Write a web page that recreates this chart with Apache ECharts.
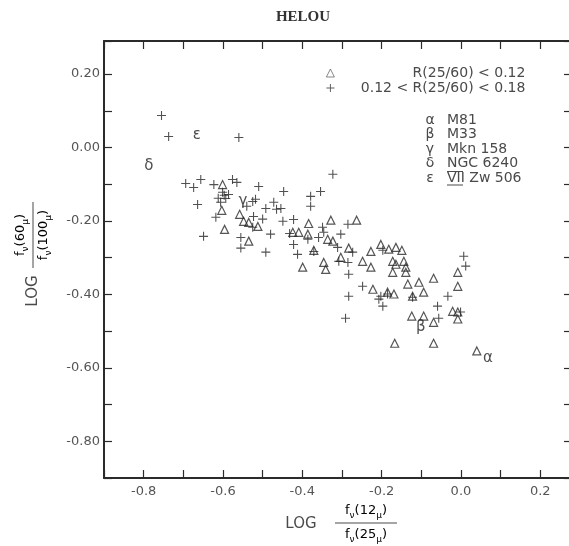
<!DOCTYPE html>
<html>
<head>
<meta charset="utf-8">
<script src="https://cdn.jsdelivr.net/npm/echarts@6/dist/echarts.min.js"></script>
<style>html,body{margin:0;padding:0;background:#fff;}#c{width:569px;height:546px;}</style>
</head>
<body>
<div id="c"></div>
<script>
// ---- data ----
const seriesNames = ['R(25/60) < 0.12', '0.12 < R(25/60) < 0.18'];
const xTickLabels = ['-0.8', '-0.6', '-0.4', '-0.2', '0.0', '0.2'];
const yTickLabels = ['0.20', '0.00', '-0.20', '-0.40', '-0.60', '-0.80'];

// triangles: R(25/60) < 0.12
const trianglePoints = [
  [-0.601,-0.101],[-0.603,-0.171],[-0.596,-0.223],[-0.558,-0.182],[-0.548,-0.201],[-0.535,-0.204],
  [-0.512,-0.215],[-0.535,-0.255],[-0.384,-0.207],[-0.328,-0.198],[-0.263,-0.198],[-0.424,-0.231],
  [-0.409,-0.231],[-0.386,-0.236],[-0.336,-0.250],[-0.323,-0.255],[-0.371,-0.280],[-0.283,-0.274],
  [-0.227,-0.283],[-0.202,-0.264],[-0.182,-0.277],[-0.164,-0.272],[-0.149,-0.280],[-0.399,-0.326],
  [-0.346,-0.313],[-0.341,-0.332],[-0.303,-0.299],[-0.248,-0.310],[-0.227,-0.326],[-0.172,-0.310],
  [-0.164,-0.318],[-0.172,-0.340],[-0.144,-0.310],[-0.139,-0.326],[-0.139,-0.340],[-0.008,-0.340],
  [-0.008,-0.378],[-0.069,-0.356],[-0.134,-0.372],[-0.106,-0.367],[-0.094,-0.394],[-0.222,-0.386],
  [-0.185,-0.394],[-0.169,-0.399],[-0.122,-0.405],[-0.124,-0.459],[-0.094,-0.459],[-0.069,-0.476],
  [-0.021,-0.446],[-0.008,-0.448],[-0.008,-0.467],[-0.167,-0.533],[-0.069,-0.533],[0.040,-0.554]
];

// pluses: 0.12 < R(25/60) < 0.18
const plusPoints = [
  [-0.755,0.087],[-0.737,0.030],[-0.560,0.027],[-0.694,-0.098],[-0.674,-0.109],[-0.656,-0.087],
  [-0.623,-0.101],[-0.576,-0.087],[-0.565,-0.095],[-0.510,-0.106],[-0.447,-0.120],[-0.379,-0.133],
  [-0.664,-0.155],[-0.601,-0.122],[-0.586,-0.128],[-0.606,-0.149],[-0.593,-0.139],[-0.525,-0.147],
  [-0.518,-0.141],[-0.492,-0.166],[-0.472,-0.149],[-0.465,-0.168],[-0.454,-0.166],[-0.379,-0.160],
  [-0.618,-0.190],[-0.523,-0.188],[-0.525,-0.217],[-0.480,-0.236],[-0.449,-0.201],[-0.422,-0.196],
  [-0.386,-0.250],[-0.371,-0.283],[-0.649,-0.242],[-0.555,-0.245],[-0.555,-0.274],[-0.492,-0.285],
  [-0.349,-0.217],[-0.346,-0.231],[-0.359,-0.245],[-0.303,-0.236],[-0.422,-0.264],[-0.311,-0.272],
  [-0.273,-0.285],[-0.285,-0.209],[-0.197,-0.280],[-0.412,-0.291],[-0.308,-0.310],[-0.285,-0.313],
  [-0.283,-0.345],[-0.248,-0.378],[-0.202,-0.405],[-0.185,-0.399],[-0.207,-0.413],[-0.283,-0.405],
  [-0.197,-0.432],[-0.291,-0.465],[-0.059,-0.432],[-0.033,-0.405],[-0.056,-0.465],[-0.001,-0.448],
  [0.007,-0.296],[0.012,-0.323],[-0.122,-0.408],[-0.432,-0.234],[-0.323,-0.073],[-0.354,-0.120],
  [-0.597,-0.130],[-0.612,-0.138],[-0.540,-0.160],[-0.500,-0.195]
];

// named objects marked with Greek letters
const greekLetters = ['α', 'β', 'γ', 'δ', 'ε'];
const greekNames = ['M81', 'M33', 'Mkn 158', 'NGC 6240', 'VII Zw 506'];
const greekX = [0.068, -0.101, -0.550, -0.787, -0.666];
const greekY = [-0.573, -0.489, -0.147, -0.052, 0.033];

// ---- chart ----
const chart = echarts.init(document.getElementById('c'), null, {renderer: 'canvas'});
const axisColor = '#2b2b2b';
const textColor = '#4a4a4a';
const sans = 'DejaVu Sans';
const plusPath = 'path://M4.4,0H5.6V4.4H10V5.6H5.6V10H4.4V5.6H0V4.4H4.4Z';

function pickLabel(list) {
  return function (v) {
    const m = list.find(function (l) { return Math.abs(parseFloat(l) - v) < 1e-6; });
    return m === undefined ? '' : m;
  };
}

const baseAxis = {
  type: 'value',
  interval: 0.1,
  min: -0.9,
  splitLine: {show: false},
  axisLine: {show: true, onZero: false, lineStyle: {color: axisColor, width: 2}},
  axisTick: {show: true, inside: true, length: 8, lineStyle: {color: axisColor, width: 1.2}}
};

const fracRich = {
  a: {fontFamily: sans, fontSize: 13, color: textColor, lineHeight: 18, verticalAlign: 'middle'},
  b: {fontFamily: sans, fontSize: 9, color: textColor, lineHeight: 18, verticalAlign: 'bottom', padding: [5, 0, 0, 0]}
};
function frac(num) { return '{a|f}{b|ν}{a|(' + num + '}{b|μ}{a|)}'; }

const keyRows = greekLetters.map(function (g, i) {
  const y = 120 + i * 14.5;
  return [
    {type: 'text', x: 430, y: y, style: {text: g, fill: textColor, font: '14px ' + sans, textAlign: 'center', textVerticalAlign: 'middle'}},
    {type: 'text', x: 447, y: y, style: {text: greekNames[i], fill: textColor, font: '14px ' + sans, textAlign: 'left', textVerticalAlign: 'middle'}}
  ];
}).flat();

const option = {
  animation: false,
  backgroundColor: '#ffffff',
  grid: {left: 104, right: -3, top: 41, bottom: 68, containLabel: false, outerBoundsMode: 'none'},
  xAxis: [
    Object.assign({}, baseAxis, {
      max: 0.28, position: 'bottom',
      axisLabel: {show: true, margin: 7, color: '#555', fontFamily: sans, fontSize: 13, formatter: pickLabel(xTickLabels)}
    }),
    Object.assign({}, baseAxis, {max: 0.28, position: 'top', axisLabel: {show: false}})
  ],
  yAxis: [
    Object.assign({}, baseAxis, {
      max: 0.29, position: 'left',
      axisLabel: {show: true, margin: 4, color: '#555', fontFamily: sans, fontSize: 13, formatter: pickLabel(yTickLabels)}
    }),
    Object.assign({}, baseAxis, {max: 0.29, position: 'right', axisLabel: {show: false}})
  ],
  legend: {
    data: [
      {name: seriesNames[0], icon: 'triangle', itemStyle: {color: 'rgba(255,255,255,0)', borderColor: '#444', borderWidth: 0.8}},
      {name: seriesNames[1], icon: plusPath, itemStyle: {color: '#333', borderWidth: 0}}
    ],
    orient: 'vertical',
    left: 321,
    top: 61,
    itemWidth: 8,
    itemHeight: 8,
    itemGap: 1,
    selectedMode: false,
    formatter: function (name) { return '{r|' + name + '}'; },
    textStyle: {rich: {r: {width: 186, align: 'right', fontFamily: sans, fontSize: 14, color: textColor, lineHeight: 15}}}
  },
  series: [
    {
      name: seriesNames[0],
      type: 'scatter',
      symbol: 'triangle',
      symbolSize: 8,
      itemStyle: {color: 'rgba(255,255,255,0)', borderColor: '#2a2a2a', borderWidth: 1.2},
      data: trianglePoints
    },
    {
      name: seriesNames[1],
      type: 'scatter',
      symbol: plusPath,
      symbolSize: 9,
      itemStyle: {color: '#262626'},
      data: plusPoints
    },
    {
      name: 'labels',
      type: 'scatter',
      symbolSize: 0,
      itemStyle: {color: 'rgba(0,0,0,0)'},
      label: {show: true, position: 'inside', formatter: '{b}', fontFamily: sans, fontSize: 15, color: '#222'},
      data: greekLetters.map(function (g, i) { return {name: g, value: [greekX[i], greekY[i]]}; })
    }
  ],
  graphic: [
    {type: 'text', x: 303, y: 17, style: {text: 'HELOU', fill: '#333', font: 'bold 15px "Liberation Serif"', textAlign: 'center', textVerticalAlign: 'middle'}},
    // key of Greek letters
    ...keyRows,
    {type: 'line', shape: {x1: 447, y1: 171.5, x2: 463, y2: 171.5}, style: {stroke: textColor, lineWidth: 1}},
    {type: 'line', shape: {x1: 447, y1: 185, x2: 463, y2: 185}, style: {stroke: textColor, lineWidth: 1}},
    // x axis title
    {type: 'text', x: 301, y: 524, style: {text: 'LOG', fill: textColor, font: '15px ' + sans, textAlign: 'center', textVerticalAlign: 'middle'}},
    {type: 'line', shape: {x1: 335, y1: 523, x2: 397, y2: 523}, style: {stroke: textColor, lineWidth: 1}},
    {type: 'text', x: 366, y: 511, style: {text: frac('12'), rich: fracRich, textAlign: 'center', textVerticalAlign: 'middle'}},
    {type: 'text', x: 366, y: 535, style: {text: frac('25'), rich: fracRich, textAlign: 'center', textVerticalAlign: 'middle'}},
    // y axis title (rotated)
    {
      type: 'group', x: 33, y: 235, rotation: Math.PI / 2,
      children: [
        {type: 'text', x: -56, y: 0, style: {text: 'LOG', fill: textColor, font: '15px ' + sans, textAlign: 'center', textVerticalAlign: 'middle'}},
        {type: 'line', shape: {x1: -33, y1: 0, x2: 33, y2: 0}, style: {stroke: textColor, lineWidth: 1}},
        {type: 'text', x: 0, y: -12, style: {text: frac('60'), rich: fracRich, textAlign: 'center', textVerticalAlign: 'middle'}},
        {type: 'text', x: 0, y: 11, style: {text: frac('100'), rich: fracRich, textAlign: 'center', textVerticalAlign: 'middle'}}
      ]
    }
  ]
};
chart.setOption(option);
</script>
</body>
</html>
